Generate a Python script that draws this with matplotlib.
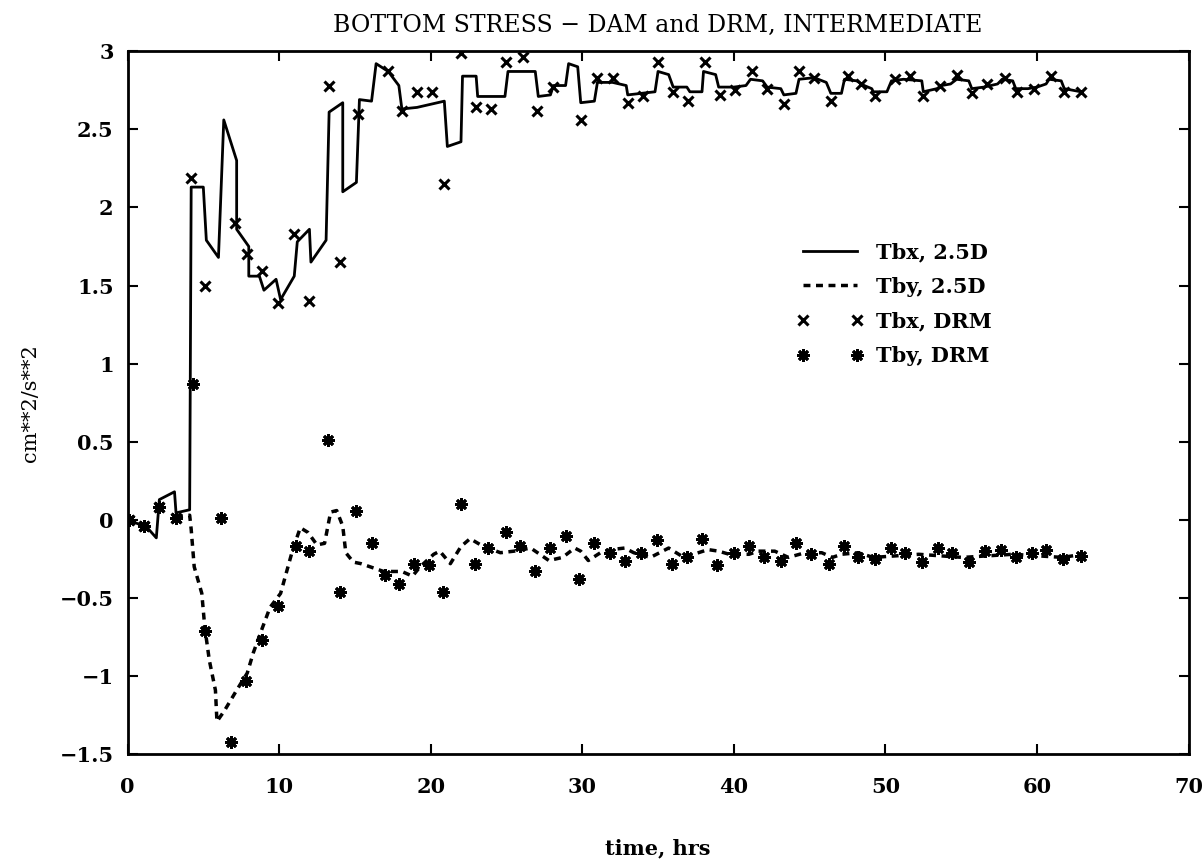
import numpy as np
import matplotlib
matplotlib.use("Agg")
import matplotlib.pyplot as plt

# Tbx, 2.5D (solid)
tbx_t = [0, 1.26, 1.9, 2.1, 3.1, 3.2, 4.1, 4.2, 5.0, 5.2, 6.0, 6.35, 7.2, 7.2, 8.0, 8.0, 8.7, 9.0, 9.8, 10.1,
         11.0, 11.2, 12.0, 12.1, 13.1, 13.3, 14.2, 14.2, 15.1, 15.3, 16.1, 16.4, 17.2, 17.9, 18.1, 19.1, 20.9,
         21.1, 22.0, 22.1, 23.0, 23.1, 24.9, 25.1, 26.1, 26.9, 27.1, 27.9, 28.1, 28.9, 29.1, 29.7, 29.9, 30.8,
         31.0, 32.0, 32.9, 33.0, 33.9, 34.8, 35.0, 35.7, 36.0, 36.9, 37.1, 37.9, 38.0, 38.8, 39.0, 40.0, 40.8,
         41.1, 41.9, 42.2, 43.1, 43.3, 44.1, 44.3, 45.3, 46.1, 46.4, 47.1, 47.3, 48.1, 48.6, 49.1, 49.2, 50.1,
         50.4, 51.2, 52.4, 52.5, 53.4, 53.7, 54.3, 54.7, 55.5, 55.7, 56.5, 57.4, 57.7, 58.4, 58.6, 59.4, 60.0,
         60.6, 60.8, 61.6, 61.8, 62.9]
tbx_v = [0, -0.045, -0.115, 0.13, 0.18, 0.045, 0.065, 2.13, 2.13, 1.79, 1.68, 2.56, 2.30, 1.86, 1.75, 1.56, 1.56, 1.47, 1.54, 1.41,
         1.56, 1.78, 1.86, 1.65, 1.79, 2.61, 2.67, 2.10, 2.16, 2.69, 2.68, 2.92, 2.87, 2.78, 2.63, 2.64, 2.68,
         2.39, 2.42, 2.84, 2.84, 2.71, 2.71, 2.87, 2.87, 2.87, 2.71, 2.72, 2.78, 2.78, 2.92, 2.90, 2.67, 2.68,
         2.80, 2.80, 2.78, 2.72, 2.73, 2.74, 2.87, 2.85, 2.77, 2.77, 2.74, 2.74, 2.87, 2.85, 2.77, 2.77, 2.78,
         2.82, 2.81, 2.77, 2.76, 2.72, 2.73, 2.82, 2.83, 2.80, 2.73, 2.73, 2.82, 2.81, 2.78, 2.76, 2.74, 2.74,
         2.81, 2.82, 2.81, 2.74, 2.76, 2.78, 2.79, 2.82, 2.81, 2.76, 2.77, 2.79, 2.82, 2.81, 2.76, 2.76, 2.77,
         2.79, 2.82, 2.81, 2.76, 2.74]

# Tby, 2.5D (dashed)
tby_t = [3.2, 4.1, 4.2, 4.4, 4.9, 5.1, 5.4, 5.8, 5.9, 6.4, 7.2, 7.9, 8.3, 8.9, 9.4, 10.1, 10.9, 11.4, 11.9,
         12.5, 13.0, 13.4, 13.8, 14.2, 14.4, 14.9, 15.4, 16.9, 18.1, 18.8, 19.3, 20.2, 20.6, 21.3, 22.0, 22.6,
         23.3, 23.8, 24.6, 25.5, 26.6, 27.8, 28.7, 29.5, 29.9, 30.4, 31.2, 31.9, 32.8, 33.4, 34.5, 35.7, 36.7,
         38.3, 39.0, 39.7, 41.0, 41.6, 42.7, 43.6, 44.7, 45.8, 46.5, 47.1, 48.2, 49.2, 52.2, 55.1, 58.4, 61.7, 63.0]
tby_v = [0.02, 0.03, -0.06, -0.30, -0.47, -0.69, -0.90, -1.09, -1.29, -1.22, -1.09, -0.98, -0.85, -0.69, -0.56, -0.47, -0.19, -0.05, -0.08,
         -0.16, -0.15, 0.05, 0.06, -0.04, -0.21, -0.27, -0.28, -0.33, -0.33, -0.36, -0.30, -0.22, -0.20, -0.28, -0.17, -0.12,
         -0.16, -0.18, -0.21, -0.20, -0.18, -0.26, -0.24, -0.18, -0.20, -0.26, -0.21, -0.19, -0.18, -0.21, -0.24, -0.18, -0.24,
         -0.19, -0.20, -0.22, -0.22, -0.20, -0.20, -0.24, -0.21, -0.21, -0.24, -0.22, -0.21, -0.24, -0.22, -0.24, -0.22, -0.24, -0.22]

# Tbx, DRM (x markers)
drm_x_t = [0.1, 1.1, 2.1, 3.2, 4.2, 5.1, 7.1, 7.9, 8.9, 9.9, 11.0, 12.0, 13.3, 14.0, 15.2, 17.2, 18.1, 19.1, 20.1,
           20.9, 22.0, 23.0, 24.0, 25.0, 26.1, 27.0, 28.1, 29.9, 31.0, 32.0, 33.0, 34.0, 35.0, 36.0, 37.0, 38.1,
           39.1, 40.1, 41.2, 42.2, 43.3, 44.3, 45.3, 46.4, 47.5, 48.4, 49.3, 50.6, 51.6, 52.5, 53.6, 54.7, 55.7,
           56.7, 57.9, 58.7, 59.8, 60.9, 61.8, 62.9]
drm_x_v = [0.0, -0.04, 0.08, 0.01, 2.19, 1.50, 1.90, 1.70, 1.59, 1.39, 1.83, 1.40, 2.78, 1.65, 2.60, 2.87, 2.62, 2.74, 2.74,
           2.15, 2.99, 2.64, 2.63, 2.93, 2.96, 2.62, 2.77, 2.56, 2.83, 2.83, 2.67, 2.71, 2.93, 2.74, 2.68, 2.93,
           2.72, 2.75, 2.87, 2.76, 2.66, 2.87, 2.83, 2.68, 2.84, 2.79, 2.71, 2.82, 2.84, 2.71, 2.78, 2.85, 2.73,
           2.79, 2.83, 2.74, 2.76, 2.84, 2.74, 2.74]

# Tby, DRM (asterisks)
drm_y_t = [0.1, 1.1, 2.1, 3.2, 4.3, 5.1, 6.2, 6.8, 7.8, 8.9, 9.9, 11.1, 12.0, 13.2, 14.0, 15.1, 16.1, 17.0, 17.9,
           18.9, 19.9, 20.8, 22.0, 22.9, 23.8, 25.0, 25.9, 26.9, 27.9, 28.9, 29.8, 30.8, 31.8, 32.8, 33.9, 34.9,
           35.9, 36.9, 37.9, 38.9, 40.0, 41.0, 42.0, 43.1, 44.1, 45.1, 46.3, 47.3, 48.2, 49.3, 50.4, 51.3, 52.4,
           53.5, 54.4, 55.5, 56.6, 57.6, 58.6, 59.7, 60.6, 61.7, 62.9]
drm_y_v = [0.0, -0.04, 0.08, 0.01, 0.87, -0.71, 0.01, -1.42, -1.03, -0.77, -0.55, -0.17, -0.20, 0.51, -0.46, 0.06, -0.15, -0.35, -0.41,
           -0.28, -0.29, -0.46, 0.10, -0.28, -0.18, -0.08, -0.17, -0.33, -0.18, -0.10, -0.38, -0.15, -0.21, -0.26, -0.21, -0.13,
           -0.28, -0.24, -0.12, -0.29, -0.21, -0.17, -0.24, -0.26, -0.15, -0.22, -0.28, -0.17, -0.24, -0.25, -0.18, -0.21, -0.27,
           -0.18, -0.21, -0.27, -0.20, -0.19, -0.24, -0.21, -0.19, -0.25, -0.23]

SERIF = ['DejaVu Serif']

fig = plt.figure(figsize=(12.03, 8.67), dpi=100)
ax = fig.add_axes([0.106, 0.130, 0.882, 0.811])

ax.plot(tbx_t, tbx_v, color='black', lw=2, label='Tbx, 2.5D')
ax.plot(tby_t, tby_v, color='black', lw=2.5, dashes=(2, 1.6), label='Tby, 2.5D')
ax.plot(drm_x_t, drm_x_v, linestyle='none', marker='x', ms=7, mew=2.2, color='black', label='Tbx, DRM')
ax.plot(drm_y_t, drm_y_v, linestyle='none', marker=(8, 2, 0), ms=9, mew=2, color='black', label='Tby, DRM')

ax.set_xlim(0, 70)
ax.set_ylim(-1.5, 3)
ax.set_xticks(np.arange(0, 71, 10))
ax.set_yticks(np.arange(-1.5, 3.01, 0.5))
ax.set_yticklabels(['\u22121.5', '\u22121', '\u22120.5', '0', '0.5', '1', '1.5', '2', '2.5', '3'])
ax.tick_params(direction='in', length=7, width=1.5, top=True, right=True, pad=10)
ax.tick_params(axis='x', pad=16)
for lbl in ax.get_xticklabels() + ax.get_yticklabels():
    lbl.set_family(SERIF)
    lbl.set_fontweight('bold')
    lbl.set_fontsize(15)
for sp in ax.spines.values():
    sp.set_linewidth(2)

ax.set_title('BOTTOM STRESS \u2212 DAM and DRM, INTERMEDIATE', family=SERIF, fontsize=17, pad=14)
ax.set_xlabel('time, hrs', family=SERIF, fontsize=15, fontweight='bold', labelpad=30)
ax.set_ylabel('cm**2/s**2', family=SERIF, fontsize=15, labelpad=14)

ax.legend(loc='upper left', bbox_to_anchor=(0.613, 0.755), frameon=False, numpoints=2,
          handlelength=3.2, handletextpad=0.6, labelspacing=0.7,
          prop={'family': SERIF, 'size': 15, 'weight': 'bold'})

plt.savefig('out.png', dpi=100)
